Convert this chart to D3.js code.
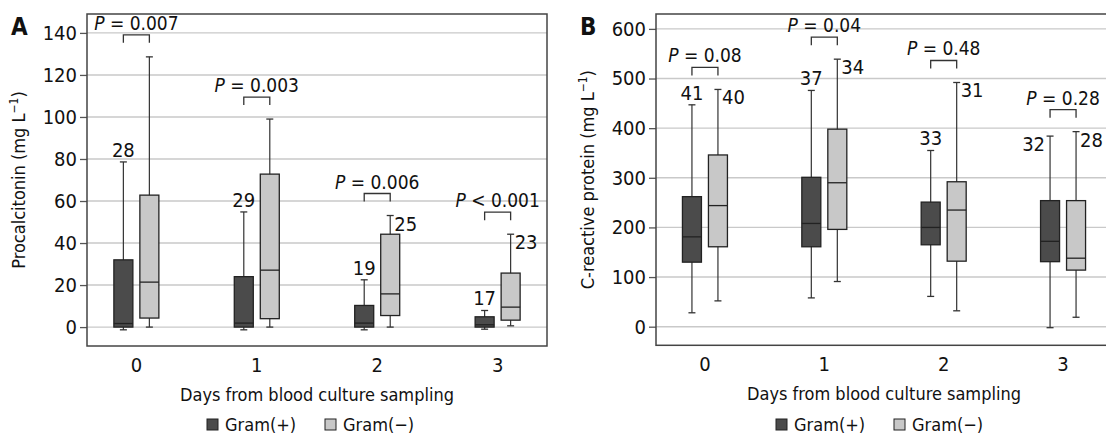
<!DOCTYPE html>
<html>
<head>
  <meta charset="utf-8">
  <script src="https://d3js.org/d3.v7.min.js"></script>
  <style>
    body { margin: 0; background: #fff; }
    svg text { font-family: "Liberation Sans Narrow", "DejaVu Sans Condensed", "Roboto Condensed", sans-serif; fill: #111; }
  </style>
</head>
<body>
<svg id="chart" width="1106" height="437"></svg>
<script>
// days on the x axis and the two groups
const days = ["0", "1", "2", "3"];
const groups = ["Gram(+)", "Gram(−)"];

// procalcitonin: [whisker low, q1, median, q3, whisker high] per day
const pctPos = [[-1.3, 0, 1.7, 32, 78.6], [-1.3, 0, 1.9, 24, 54.8], [-1.3, 0, 1.9, 10.3, 22.5], [-1, 0, 1.1, 4.9, 7.9]];
const pctNeg = [[0, 4.3, 21.4, 62.8, 128.6], [0, 4, 27.1, 72.8, 99], [0, 5.5, 15.8, 44.2, 53.1], [0.6, 3.3, 9.5, 25.7, 44.2]];
const pctNPos = [28, 29, 19, 17];
const pctNNeg = [null, null, 25, 23];
const pctP = ["= 0.007", "= 0.003", "= 0.006", "< 0.001"];
const pctTicks = [0, 20, 40, 60, 80, 100, 120, 140];

// C-reactive protein
const crpPos = [[28, 130, 181, 262, 447], [58, 161, 208, 301, 476], [61, 165, 200, 251, 355], [-2, 131, 172, 254, 384]];
const crpNeg = [[52, 161, 244, 346, 478], [91, 196, 290, 398, 539], [32, 132, 235, 292, 492], [19, 114, 138, 254, 393]];
const crpNPos = [41, 37, 33, 32];
const crpNNeg = [40, 34, 31, 28];
const crpP = ["= 0.08", "= 0.04", "= 0.48", "= 0.28"];
const crpTicks = [0, 100, 200, 300, 400, 500, 600];

const colors = ["#4b4b4b", "#c8c8c8"];
const svg = d3.select("#chart");

function panel(o) {
  const g = svg.append("g");
  const x = d3.scalePoint().domain(days).range([o.left, o.right]).padding(0.41);
  const y = d3.scaleLinear().domain(o.domain).range([o.bottom, o.top]);
  const bw = 19, off = 13;

  // grid
  g.selectAll(".grid").data(o.ticks).enter().append("line")
    .attr("x1", o.left).attr("x2", o.right)
    .attr("y1", d => y(d)).attr("y2", d => y(d))
    .attr("stroke", "#c9c9c9").attr("stroke-width", 1.4);

  // y axis
  const ax = g.append("g").attr("transform", "translate(" + o.left + ",0)")
    .call(d3.axisLeft(y).tickValues(o.ticks).tickSize(7).tickPadding(3));
  ax.select(".domain").remove();
  ax.selectAll(".tick line").attr("stroke", "#555").attr("stroke-width", 1.3);
  ax.selectAll(".tick text").attr("font-size", 20).attr("fill", "#111")
    .attr("font-family", null);

  // x labels
  g.selectAll(".xl").data(days).enter().append("text")
    .attr("x", d => x(d)).attr("y", o.bottom + 26)
    .attr("text-anchor", "middle").attr("font-size", 20).text(d => d);

  // frame
  g.append("rect").attr("x", o.left).attr("y", o.top)
    .attr("width", o.right - o.left).attr("height", o.bottom - o.top)
    .attr("fill", "none").attr("stroke", "#444").attr("stroke-width", 1.5);

  // boxes
  [o.pos, o.neg].forEach((series, gi) => {
    series.forEach((s, i) => {
      const cx = x(days[i]) + (gi === 0 ? -off : off);
      const b = g.append("g");
      b.append("line").attr("x1", cx).attr("x2", cx).attr("y1", y(s[0])).attr("y2", y(s[4]))
        .attr("stroke", "#333").attr("stroke-width", 1.2);
      [s[0], s[4]].forEach(v => b.append("line").attr("x1", cx - 3.5).attr("x2", cx + 3.5)
        .attr("y1", y(v)).attr("y2", y(v)).attr("stroke", "#333").attr("stroke-width", 1.3));
      b.append("rect").attr("x", cx - bw / 2).attr("y", y(s[3]))
        .attr("width", bw).attr("height", y(s[1]) - y(s[3]))
        .attr("fill", colors[gi]).attr("stroke", "#222").attr("stroke-width", 1.3);
      b.append("line").attr("x1", cx - bw / 2).attr("x2", cx + bw / 2)
        .attr("y1", y(s[2])).attr("y2", y(s[2])).attr("stroke", "#222").attr("stroke-width", 1.3);

      // counts
      const n = gi === 0 ? o.nPos[i] : o.nNeg[i];
      if (n != null) {
        const t = b.append("text").attr("font-size", 20).text(n);
        if (gi === 1) {
          t.attr("x", cx + 4).attr("y", y(s[4]) + 15);
        } else if (o.leftLast && i === days.length - 1) {
          t.attr("x", cx - 5).attr("y", y(s[4]) + 15).attr("text-anchor", "end");
        } else {
          t.attr("x", cx).attr("y", y(s[4]) - 5).attr("text-anchor", "middle");
        }
      }
    });
  });

  // brackets and p values
  days.forEach((d, i) => {
    const top = Math.min(y(o.pos[i][4]), y(o.neg[i][4])) - 22;
    const x1 = x(d) - off, x2 = x(d) + off;
    g.append("path").attr("d", `M${x1},${top + 8}V${top}H${x2}V${top + 8}`)
      .attr("fill", "none").attr("stroke", "#333").attr("stroke-width", 1.3);
    const t = g.append("text").attr("x", x(d)).attr("y", top - 5)
      .attr("text-anchor", "middle").attr("font-size", 19);
    t.append("tspan").attr("font-style", "italic").text("P");
    t.append("tspan").text(" " + o.p[i]);
  });

  // axis titles
  const yt = g.append("text").attr("text-anchor", "middle").attr("font-size", 18)
    .attr("transform", `translate(${o.left - o.ytOff},${(o.top + o.bottom) / 2}) rotate(-90)`);
  yt.append("tspan").text(o.ytitle + " (mg L");
  yt.append("tspan").attr("font-size", 12).attr("dy", -7).text("−1");
  yt.append("tspan").attr("dy", 7).text(")");

  g.append("text").attr("x", (o.left + o.right) / 2).attr("y", o.bottom + 55)
    .attr("text-anchor", "middle").attr("font-size", 18).text("Days from blood culture sampling");

  g.append("text").attr("x", o.left - 76).attr("y", o.top + 21)
    .attr("font-size", 24).attr("font-weight", "bold").text(o.letter);

  // legend
  const lg = g.append("g").attr("transform", `translate(${o.legendX},430)`);
  groups.forEach((name, gi) => {
    const lx = gi * 118;
    lg.append("rect").attr("x", lx).attr("y", -11).attr("width", 11).attr("height", 11)
      .attr("fill", colors[gi]).attr("stroke", "#222").attr("stroke-width", 1);
    lg.append("text").attr("x", lx + 18).attr("y", 1).attr("font-size", 18).text(name);
  });
}

panel({
  left: 87, right: 547, top: 14, bottom: 346, domain: [-9, 149], ticks: pctTicks,
  pos: pctPos, neg: pctNeg, nPos: pctNPos, nNeg: pctNNeg, p: pctP,
  ytitle: "Procalcitonin", ytOff: 62, letter: "A", legendX: 207, leftLast: false
});
panel({
  left: 656, right: 1112, top: 14, bottom: 345.3, domain: [-37.5, 630], ticks: crpTicks,
  pos: crpPos, neg: crpNeg, nPos: crpNPos, nNeg: crpNNeg, p: crpP,
  ytitle: "C-reactive protein", ytOff: 62, letter: "B", legendX: 776, leftLast: true
});
</script>
</body>
</html>
